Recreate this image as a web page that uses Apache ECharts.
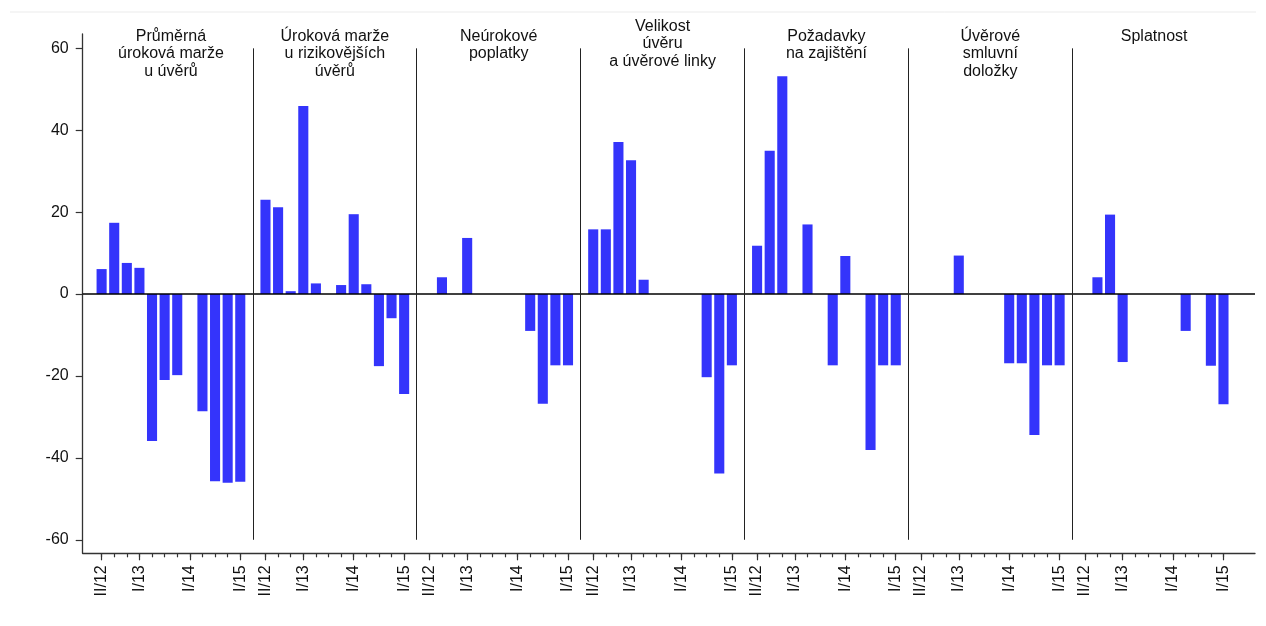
<!DOCTYPE html>
<html>
<head>
<meta charset="utf-8">
<script src="https://cdn.jsdelivr.net/npm/echarts@6/dist/echarts.min.js"></script>
<style>
html,body{margin:0;padding:0;background:#fff;}
#chart{width:1266px;height:626px;}
</style>
</head>
<body>
<div id="chart"></div>
<script>
// ---- data ----
var quarters = ['II/12','III/12','IV/12','I/13','II/13','III/13','IV/13','I/14','II/14','III/14','IV/14','I/15'];
var labeledQuarters = ['II/12','I/13','I/14','I/15'];
var panelTitles = [
  'Průměrná\núroková marže\nu úvěrů',
  'Úroková marže\nu rizikovějších\núvěrů',
  'Neúrokové\npoplatky',
  'Velikost\núvěru\na úvěrové linky',
  'Požadavky\nna zajištění',
  'Úvěrové\nsmluvní\ndoložky',
  'Splatnost'
];
var p1 = [6.1, 17.4, 7.6, 6.4, -35.9, -21.0, -19.8, 0, -28.6, -45.7, -46.1, -45.8];
var p2 = [23.0, 21.2, 0.7, 45.9, 2.6, 0, 2.2, 19.5, 2.4, -17.6, -5.9, -24.4];
var p3 = [0, 4.1, 0, 13.7, 0, 0, 0, 0, -9.0, -26.8, -17.4, -17.4];
var p4 = [15.8, 15.8, 37.1, 32.7, 3.5, 0, 0, 0, 0, -20.3, -43.8, -17.4];
var p5 = [11.8, 35.0, 53.2, 0, 17.0, 0, -17.4, 9.3, 0, -38.1, -17.4, -17.4];
var p6 = [0, 0, 0, 9.4, 0, 0, 0, -16.9, -16.9, -34.4, -17.4, -17.4];
var p7 = [0, 4.1, 19.4, -16.6, 0, 0, 0, 0, -9.0, 0, -17.5, -26.9];
var panels = [p1, p2, p3, p4, p5, p6, p7];
var yTicks = [-60, -40, -20, 0, 20, 40, 60];

// ---- build category slots: divider slot before each panel, then 12 quarters ----
var cats = [];
var values = [];
var dividerNames = [];
panels.forEach(function (arr, k) {
  var dn = 'd' + k;
  cats.push(dn); values.push(null); dividerNames.push(dn);
  quarters.forEach(function (q, i) {
    cats.push((k + 1) + '|' + q);
    values.push(arr[i]);
  });
});
cats.push('d7'); values.push(null); dividerNames.push('d7');
cats.push('end'); values.push(null);

function qOf(v) { var s = String(v).split('|'); return s.length > 1 ? s[1] : null; }
function isMajor(i, v) { var q = qOf(v); return q !== null && labeledQuarters.indexOf(q) >= 0; }
function isMinor(i, v) { return qOf(v) !== null; }

var dividerLines = [];
for (var k = 1; k <= 6; k++) {
  dividerLines.push([{ coord: [dividerNames[k], 60] }, { coord: [dividerNames[k], -60] }]);
}

var FONT = '"Liberation Sans", Arial, Helvetica, sans-serif';
var chart = echarts.init(document.getElementById('chart'));
var option = {
  animation: false,
  grid: { left: 82.7, right: 11, top: 34, bottom: 72.7, containLabel: false },
  xAxis: [{
    type: 'category',
    position: 'bottom',
    data: cats,
    boundaryGap: true,
    axisLine: { show: true, onZero: false, lineStyle: { color: '#333', width: 1.3 } },
    axisTick: { show: true, alignWithLabel: true, interval: isMajor, length: 7, lineStyle: { color: '#333', width: 1.2 } },
    axisLabel: {
      show: true, interval: isMajor, rotate: 90, margin: 12,
      fontSize: 16, fontFamily: FONT, color: '#111',
      formatter: function (v) { return qOf(v) || ''; }
    },
    splitLine: { show: false }
  }, {
    type: 'category',
    position: 'bottom',
    data: cats,
    boundaryGap: true,
    axisLine: { show: false, onZero: false },
    axisTick: { show: true, alignWithLabel: true, interval: isMinor, length: 4, lineStyle: { color: '#333', width: 1.2 } },
    axisLabel: { show: false },
    splitLine: { show: false }
  }],
  yAxis: {
    type: 'value',
    min: -63.3,
    max: 63.5,
    axisLine: { show: true, lineStyle: { color: '#333', width: 1.3 } },
    axisTick: { show: true, customValues: yTicks, length: 7, lineStyle: { color: '#333', width: 1.2 } },
    axisLabel: { show: true, customValues: yTicks, margin: 14, fontSize: 16, fontFamily: FONT, color: '#111' },
    splitLine: { show: false }
  },
  series: [{
    type: 'bar',
    xAxisIndex: 0,
    data: values,
    barWidth: '80%',
    itemStyle: { color: '#3434fb' },
    markLine: {
      silent: true,
      symbol: 'none',
      label: { show: false },
      animation: false,
      data: [
        { yAxis: 0, lineStyle: { color: '#000', width: 1.6, type: 'solid' } }
      ].concat(dividerLines.map(function (pair) {
        pair[0].lineStyle = { color: '#222', width: 1, type: 'solid' };
        return pair;
      }))
    }
  }]
};
chart.setOption(option);

// panel titles centred over each panel (between divider slots)
var graphics = [{
  type: 'line', silent: true,
  shape: { x1: 10, y1: 12, x2: 1256, y2: 12 },
  style: { stroke: '#ebebeb', lineWidth: 1 }
}];
panelTitles.forEach(function (t, k) {
  var xa = chart.convertToPixel({ xAxisIndex: 0 }, k * 13);
  var xb = chart.convertToPixel({ xAxisIndex: 0 }, (k + 1) * 13);
  var cx = (xa + xb) / 2;
  graphics.push({
    type: 'text', silent: true,
    x: cx, y: (k === 3 ? 17.5 : 27.5),
    style: {
      text: t, textAlign: 'center', textVerticalAlign: 'top',
      font: '16px ' + FONT, lineHeight: 17.5, fill: '#111'
    }
  });
});
chart.setOption({ graphic: graphics });
</script>
</body>
</html>
